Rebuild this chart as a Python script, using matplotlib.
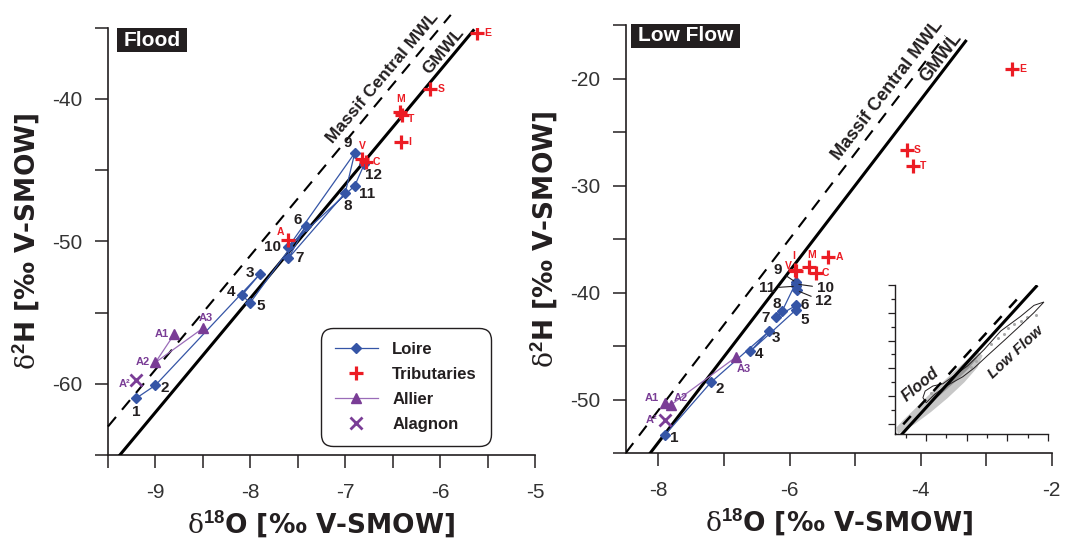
import numpy as np
import matplotlib
matplotlib.use('Agg')
import matplotlib.pyplot as plt
from matplotlib.lines import Line2D
from matplotlib.patches import Polygon, Rectangle
from matplotlib.ticker import MultipleLocator, NullFormatter

plt.rcParams.update({
    'font.family': ['Liberation Sans', 'DejaVu Sans'],
    'mathtext.fontset': 'custom',
    'mathtext.rm': 'DejaVu Serif',
    'mathtext.bf': 'Liberation Sans:bold',
    'mathtext.it': 'DejaVu Serif:italic',
    'axes.unicode_minus': False,
})

##### Data : Flood (left panel) ######################################
loire_ids = [str(i) for i in range(1, 13)]
flood_loire_d18o = [-9.20, -9.00, -7.90, -8.09, -8.00, -7.41, -7.60, -7.00, -6.90, -7.60, -6.90, -6.80]
flood_loire_d2h = [-61.0, -60.1, -52.3, -53.8, -54.3, -48.9, -51.2, -46.6, -43.8, -50.4, -46.1, -44.6]

flood_trib_names = ['E', 'S', 'M', 'T', 'I', 'V', 'C', 'A']
flood_trib_d18o = [-5.61, -6.11, -6.42, -6.40, -6.41, -6.82, -6.78, -7.60]
flood_trib_d2h = [-35.4, -39.3, -40.95, -41.1, -43.0, -44.2, -44.4, -49.9]

allier_ids = ['A1', 'A2', 'A3']
flood_allier_d18o = [-8.80, -9.00, -8.50]
flood_allier_d2h = [-56.5, -58.5, -56.1]

alagnon_ids = ['A²']
flood_alagnon_d18o = [-9.20]
flood_alagnon_d2h = [-59.7]

##### Data : Low Flow (right panel) ##################################
low_loire_d18o = [-7.90, -7.20, -6.31, -6.60, -5.90, -5.90, -6.21, -6.11, -5.90, -5.90, -5.90, -5.89]
low_loire_d2h = [-53.3, -48.4, -43.6, -45.5, -41.6, -41.2, -42.3, -41.7, -39.05, -39.2, -39.4, -39.8]

low_trib_names = ['E', 'S', 'T', 'A', 'M', 'C', 'V', 'I']
low_trib_d18o = [-2.61, -4.20, -4.11, -5.41, -5.71, -5.60, -5.90, -5.92]
low_trib_d2h = [-19.1, -26.65, -28.2, -36.65, -37.6, -38.2, -38.0, -37.9]

low_allier_d18o = [-7.90, -7.81, -6.81]
low_allier_d2h = [-50.3, -50.5, -46.0]

low_alagnon_d18o = [-7.90]
low_alagnon_d2h = [-51.9]

##### Meteoric water lines (slope, intercept) ########################
GMWL = (8.0, 10.0)
MCMWL = (8.0, 13.0)

##### Inset envelopes (d18O, d2H) ####################################
flood_env_d18o = [-9.39, -8.57, -7.76, -6.94, -6.12, -5.47, -5.22, -5.47, -5.96, -6.62, -7.27, -7.92, -8.57, -9.14, -9.47]
flood_env_d2h = [-63.5, -60.0, -55.6, -50.6, -45.0, -39.6, -35.4, -34.0, -36.8, -41.1, -45.5, -49.9, -54.6, -58.6, -61.2]
flood_core_d18o = [-7.95, -7.30, -6.60, -5.90, -5.45, -5.60, -6.20, -6.90, -7.60]
flood_core_d2h = [-53.0, -49.5, -45.0, -40.0, -36.0, -36.2, -40.0, -45.0, -49.5]
low_env_d18o = [-2.20, -2.69, -3.34, -4.16, -4.98, -5.63, -6.20, -6.94, -7.59, -8.00, -8.16, -8.05,
                -7.67, -7.18, -5.96, -5.14, -4.33, -3.34, -2.69]
low_env_d2h = [-16.2, -20.0, -24.5, -30.0, -35.4, -39.8, -43.0, -46.0, -49.3, -52.3, -50.5, -48.1,
               -46.3, -45.5, -39.1, -33.2, -26.6, -21.3, -17.4]
low_dots_d18o = [-7.76, -5.79, -5.55, -4.81, -4.48, -4.16, -3.99, -3.67, -3.34, -3.02, -2.61]
low_dots_d2h = [-48.7, -39.5, -37.4, -31.4, -29.0, -27.8, -25.5, -24.0, -22.9, -21.6, -20.9]

##### Styles ##########################################################
BLUE = '#3555a6'
RED = '#ec1c24'
PURPLE = '#7a3d96'
PURPLE_L = '#9a6cb8'
INK = '#231f20'

# label offsets in pixels (dx, dy)
flood_loire_off = [(0, -14), (9, -3), (-10, 1), (-11, 3), (10, -3), (-9, 6), (11, 0),
                   (3, -13), (-7, 10), (-16, 0), (12, -8), (9, -11)]
low_loire_off = [(9, -3), (9, -7), (7, -7), (9, -3), (9, -10), (9, 0), (-10, -1),
                 (-6, 7), (-18, 12), (29, -4), (-29, -2), (27, -11)]
low_leaders = [8, 9, 10, 11]
flood_trib_off = [(11, 0), (11, 0), (0, 13), (9, -4), (8, 0), (0, 13), (10, 0), (-8, 8)]
low_trib_off = [(11, 0), (10, 0), (10, 0), (11, 0), (3, 12), (10, 0), (-8, 5), (-1, 14)]
flood_allier_off = [(-13, 0), (-13, 0), (3, 10)]
low_allier_off = [(-13, 5), (10, 7), (7, -12)]
flood_alagnon_off = [(-12, -4)]
low_alagnon_off = [(-13, 0)]

fig = plt.figure(figsize=(10.67, 5.43), dpi=100)
axL = fig.add_axes([0.1012, 0.162, 0.4002, 0.787])
axR = fig.add_axes([0.5864, 0.1657, 0.3992, 0.788])


def style_axes(ax, xmaj, xmin, ymaj, ymin):
    for s in ['top', 'right']:
        ax.spines[s].set_visible(False)
    for s in ['left', 'bottom']:
        ax.spines[s].set_linewidth(1.2)
        ax.spines[s].set_color(INK)
    ax.xaxis.set_major_locator(MultipleLocator(xmaj))
    ax.xaxis.set_minor_locator(MultipleLocator(xmin))
    ax.yaxis.set_major_locator(MultipleLocator(ymaj))
    ax.yaxis.set_minor_locator(MultipleLocator(ymin))
    ax.tick_params(which='both', direction='out', length=9.5, width=1.1, color=INK)
    ax.tick_params(axis='x', labelsize=15, labelcolor='#333333', pad=10.5)
    ax.tick_params(axis='y', labelsize=15, labelcolor='#333333', pad=9)
    lab = dict(fontsize=19, fontweight='bold', color=INK, family='DejaVu Sans')
    ax.set_xlabel(r'$\mathrm{\delta}^{\mathbf{18}}$O [‰ V-SMOW]', labelpad=5, **lab)
    ax.set_ylabel(r'$\mathrm{\delta}^{\mathbf{2}}$H [‰ V-SMOW]', labelpad=7, **lab)


def draw_mwl(ax, line, y0, y1, **kw):
    s, b = line
    ys = np.array([y0, y1])
    ax.plot((ys - b) / s, ys, **kw)


def label_points(ax, xs, ys, names, offs, color, size, leaders=()):
    for i, (x, y, n, o) in enumerate(zip(xs, ys, names, offs)):
        kw = {}
        if i in leaders:
            kw['arrowprops'] = dict(arrowstyle='-', lw=0.8, color=INK, shrinkA=1, shrinkB=2)
        ax.annotate(n, (x, y), xytext=o, textcoords='offset pixels', ha='center',
                    va='center', color=color, fontsize=size, fontweight='bold', zorder=6, **kw)


def draw_data(ax, lx, ly, loff, tn, tx, ty, toff, ax_, ay_, aoff, gx, gy, goff, leaders=()):
    ax.plot(lx, ly, '-', color=BLUE, lw=0.9, marker='D', ms=5.5, mfc=BLUE, mec=BLUE, zorder=4)
    ax.plot(tx, ty, '+', color=RED, ms=10, mew=2.3, zorder=5, ls='none')
    ax.plot(ax_, ay_, '-', color=PURPLE_L, lw=0.9, marker='^', ms=7, mfc=PURPLE, mec=PURPLE, zorder=4)
    ax.plot(gx, gy, 'x', color=PURPLE, ms=8, mew=2, ls='none', zorder=4)
    label_points(ax, lx, ly, loire_ids, loff, INK, 11, leaders)
    label_points(ax, tx, ty, tn, toff, RED, 7.5)
    label_points(ax, ax_, ay_, allier_ids, aoff, PURPLE, 8)
    label_points(ax, gx, gy, alagnon_ids, goff, PURPLE, 8)


def panel_tag(ax, text, x0, x1, y0, y1):
    ax.add_patch(Rectangle((x0, y0), x1 - x0, y1 - y0, transform=ax.transAxes,
                           fc=INK, ec='none', clip_on=False, zorder=7))
    ax.text((x0 + x1) / 2, (y0 + y1) / 2, text, transform=ax.transAxes, ha='center',
            va='center', color='white', fontsize=15, fontweight='bold', zorder=8)


##### Left panel : Flood ##############################################
axL.set_xlim(-9.5, -5)
axL.set_ylim(-65, -35)
style_axes(axL, 1, 0.5, 10, 5)
draw_mwl(axL, GMWL, -65, -35.2, color='black', lw=2.2, zorder=3)
draw_mwl(axL, MCMWL, -63.0, -34.1, color='black', lw=1.5, ls=(0, (6, 4.5)), zorder=3, clip_on=False)
axL.text(-6.61, -38.5, 'Massif Central MWL', rotation=50, ha='center', va='center',
         fontsize=12.5, fontweight='bold', color=INK, rotation_mode='anchor', clip_on=False)
axL.text(-5.963, -36.64, 'GMWL', rotation=50, ha='center', va='center',
         fontsize=12.5, fontweight='bold', color=INK, rotation_mode='anchor')
draw_data(axL, flood_loire_d18o, flood_loire_d2h, flood_loire_off,
          flood_trib_names, flood_trib_d18o, flood_trib_d2h, flood_trib_off,
          flood_allier_d18o, flood_allier_d2h, flood_allier_off,
          flood_alagnon_d18o, flood_alagnon_d2h, flood_alagnon_off)
panel_tag(axL, 'Flood', 0.0218, 0.1843, 0.9438, 0.9986)

handles = [
    Line2D([], [], color=BLUE, lw=0.9, marker='D', ms=5.5, mfc=BLUE, mec=BLUE),
    Line2D([], [], color=RED, ls='none', marker='+', ms=10, mew=2.3),
    Line2D([], [], color=PURPLE_L, lw=0.9, marker='^', ms=7, mfc=PURPLE, mec=PURPLE),
    Line2D([], [], color=PURPLE, ls='none', marker='x', ms=8, mew=2),
]
leg = axL.legend(handles, ['Loire', 'Tributaries', 'Allier', 'Alagnon'],
                 loc='lower left', bbox_to_anchor=(0.498, 0.021), frameon=True,
                 fancybox=True, prop={'weight': 'bold', 'size': 12},
                 handlelength=2.6, handletextpad=0.85, labelspacing=0.6,
                 borderpad=0.85, borderaxespad=0)
frame = leg.get_frame()
frame.set_edgecolor(INK)
frame.set_linewidth(1.0)
frame.set_alpha(1)
frame.set_boxstyle('round', pad=0, rounding_size=0.75)
for t in leg.get_texts():
    t.set_color(INK)

##### Right panel : Low Flow ##########################################
axR.set_xlim(-8.5, -2)
axR.set_ylim(-55, -15)
style_axes(axR, 2, 1, 10, 5)
draw_mwl(axR, GMWL, -55, -16.5, color='black', lw=2.2, zorder=3)
draw_mwl(axR, MCMWL, -55, -16.0, color='black', lw=1.5, ls=(0, (6, 4.5)), zorder=3)
axR.text(-4.506, -21.09, 'Massif Central MWL', rotation=52.5, ha='center', va='center',
         fontsize=13, fontweight='bold', color=INK, rotation_mode='anchor', clip_on=False)
axR.text(-3.693, -18.05, 'GMWL', rotation=52.5, ha='center', va='center',
         fontsize=13, fontweight='bold', color=INK, rotation_mode='anchor')
draw_data(axR, low_loire_d18o, low_loire_d2h, low_loire_off,
          low_trib_names, low_trib_d18o, low_trib_d2h, low_trib_off,
          low_allier_d18o, low_allier_d2h, low_allier_off,
          low_alagnon_d18o, low_alagnon_d2h, low_alagnon_off, leaders=low_leaders)
panel_tag(axR, 'Low Flow', 0.0124, 0.2684, 0.947, 1.0023)

##### Inset : envelopes ###############################################
axI = fig.add_axes([0.8385, 0.2007, 0.1437, 0.275])
axI.set_xlim(-9.55, -2)
axI.set_ylim(-63.5, -10)
for s in ['top', 'right']:
    axI.spines[s].set_visible(False)
for s in ['left', 'bottom']:
    axI.spines[s].set_linewidth(1.0)
    axI.spines[s].set_color(INK)
axI.xaxis.set_major_locator(MultipleLocator(2))
axI.xaxis.set_minor_locator(MultipleLocator(1))
axI.yaxis.set_major_locator(MultipleLocator(10))
axI.yaxis.set_minor_locator(MultipleLocator(5))
axI.tick_params(which='major', direction='out', length=5, width=0.9, color=INK)
axI.tick_params(which='minor', direction='out', length=3, width=0.9, color=INK)
axI.xaxis.set_major_formatter(NullFormatter())
axI.yaxis.set_major_formatter(NullFormatter())

low_xy = np.column_stack([low_env_d18o, low_env_d2h])
axI.add_patch(Polygon(low_xy, closed=True, fc='white', ec='none', zorder=1))
axI.add_patch(Polygon(np.column_stack([flood_env_d18o, flood_env_d2h]), closed=True,
                      fc='#bdbdbd', ec='none', alpha=0.85, zorder=2))
axI.add_patch(Polygon(np.column_stack([flood_core_d18o, flood_core_d2h]), closed=True,
                      fc='#8a8a8a', ec='none', alpha=0.8, zorder=2))
axI.add_patch(Polygon(low_xy, closed=True, fill=False, ec=INK, lw=0.7, zorder=2.5))
axI.plot(low_dots_d18o, low_dots_d2h, 'o', ms=2.2, color='#a8a8a8', mec='none', zorder=2)
draw_mwl(axI, GMWL, -66, -10.6, color='black', lw=2.2, zorder=3)
draw_mwl(axI, MCMWL, -66, -14.0, color='black', lw=1.8, ls=(0, (4.5, 4.5)), zorder=3)
axI.text(0.17, 0.33, 'Flood', transform=axI.transAxes, rotation=40, ha='center', va='center',
         fontsize=11.5, fontweight='bold', fontstyle='italic', color=INK)
axI.text(0.79, 0.55, 'Low Flow', transform=axI.transAxes, rotation=43, ha='center',
         va='center', fontsize=11, fontweight='bold', fontstyle='italic', color=INK)

plt.savefig('out.png', dpi=100)
